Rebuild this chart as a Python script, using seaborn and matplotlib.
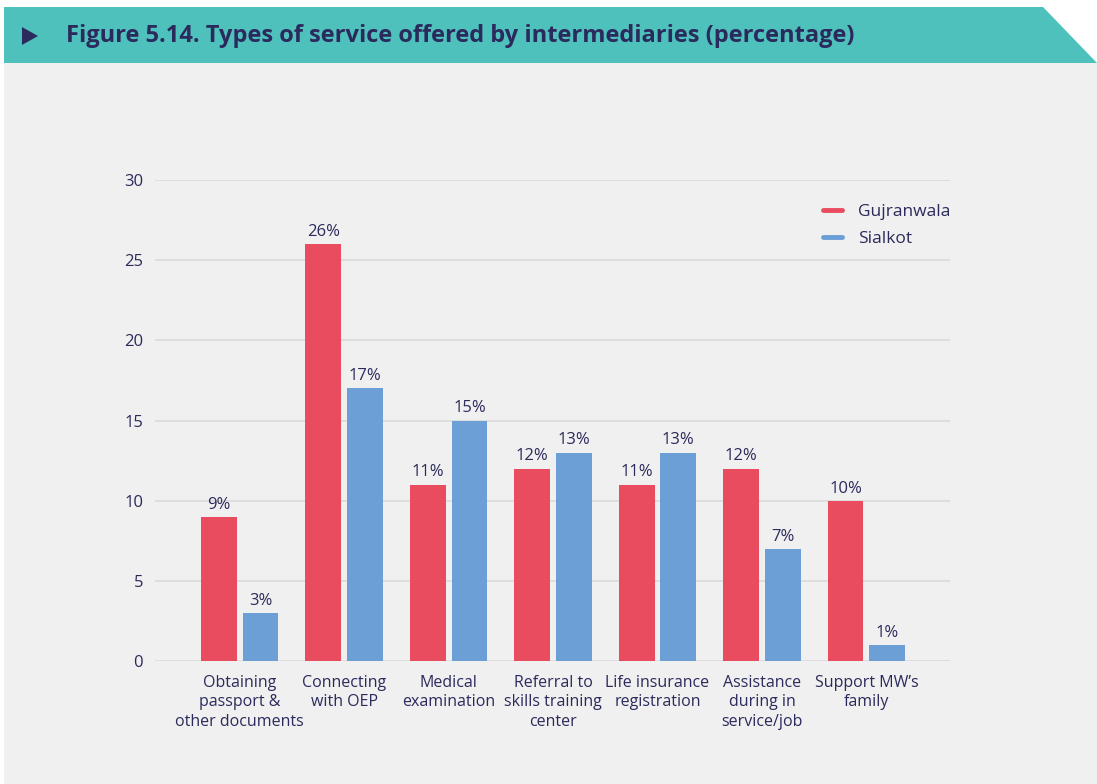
import matplotlib
matplotlib.use("Agg")
import matplotlib.pyplot as plt
from matplotlib.patches import Polygon, Rectangle
from matplotlib.lines import Line2D
import seaborn as sns
import pandas as pd

# Service categories and shares (%) by district
categories = [
    "Obtaining\npassport &\nother documents",
    "Connecting\nwith OEP",
    "Medical\nexamination",
    "Referral to\nskills training\ncenter",
    "Life insurance\nregistration",
    "Assistance\nduring in\nservice/job",
    "Support MW\u2019s\nfamily",
]
gujranwala = [9, 26, 11, 12, 11, 12, 10]
sialkot = [3, 17, 15, 13, 13, 7, 1]
districts = ["Gujranwala", "Sialkot"]
yticks = [0, 5, 10, 15, 20, 25, 30]
title = "Figure 5.14. Types of service offered by intermediaries (percentage)"

RED = "#E84C5E"
BLUE = "#6B9FD6"
NAVY = "#2B2A5C"
TEAL = "#4FC1BD"
PANEL = "#F0F0F0"
GRID = "#DCDCDC"

df = pd.DataFrame({
    "category": categories * 2,
    "district": [districts[0]] * len(categories) + [districts[1]] * len(categories),
    "value": gujranwala + sialkot,
})

sns.set_theme(style="white")
plt.rcParams["font.family"] = ["Open Sans", "DejaVu Sans"]

W, H = 1097, 784
fig = plt.figure(figsize=(W / 100, H / 100), dpi=100, facecolor="white")

def px(x, y):
    return (x / W, 1 - y / H)

# Light panel and teal header band
fig.patches.append(Rectangle(px(4, H), (W - 4) / W, (H - 63) / H,
                             transform=fig.transFigure, facecolor=PANEL,
                             edgecolor="none", zorder=-2))
fig.patches.append(Polygon([px(4, 7), px(1043, 7), px(1097, 63), px(4, 63)],
                           closed=True, transform=fig.transFigure,
                           facecolor=TEAL, edgecolor="none", zorder=-2))
fig.patches.append(Polygon([px(22, 27), px(38, 36), px(22, 45)], closed=True,
                           transform=fig.transFigure, facecolor=NAVY,
                           edgecolor="none", zorder=-1))
fig.text(66 / W, 1 - 36 / H, title, fontsize=17.05, fontweight="bold",
         color=NAVY, ha="left", va="center")

ax = fig.add_axes([155 / W, 1 - 661 / H, (950 - 155) / W, (661 - 180) / H])
ax.set_facecolor("none")
ax.set_zorder(5)

sns.barplot(data=df, x="category", y="value", hue="district",
            palette=[RED, BLUE], width=0.80, gap=0.143, ax=ax,
            legend=False, saturation=1, linewidth=0, zorder=3)

for cont in ax.containers:
    ax.bar_label(cont, labels=[f"{v:.0f}%" for v in cont.datavalues],
                 padding=3, fontsize=12, color=NAVY)

ax.set_ylim(0, 30)
ax.set_xlim(-0.81, 6.8)
ax.set_yticks(yticks)
ax.set_yticklabels([str(t) for t in yticks])
ax.yaxis.grid(True, color=GRID, linewidth=1.3, zorder=0)
ax.set_axisbelow(True)
for s in ax.spines.values():
    s.set_visible(False)
ax.tick_params(axis="y", length=0, pad=8.5, labelsize=12, labelcolor=NAVY)
ax.tick_params(axis="x", length=0, pad=10, labelsize=11.5, labelcolor=NAVY)
for lbl in ax.get_xticklabels():
    lbl.set_linespacing(1.3)
ax.set_xlabel("")
ax.set_ylabel("")

handles = [Line2D([0], [0], color=c, linewidth=3.5) for c in (RED, BLUE)]
ax.legend(handles, districts, loc="upper right", bbox_to_anchor=(1.02, 0.982),
          frameon=False, fontsize=12.5, labelcolor=NAVY, handlelength=1.1,
          handletextpad=0.9, labelspacing=0.6)

fig.savefig("out.png", dpi=100, facecolor=fig.get_facecolor())
